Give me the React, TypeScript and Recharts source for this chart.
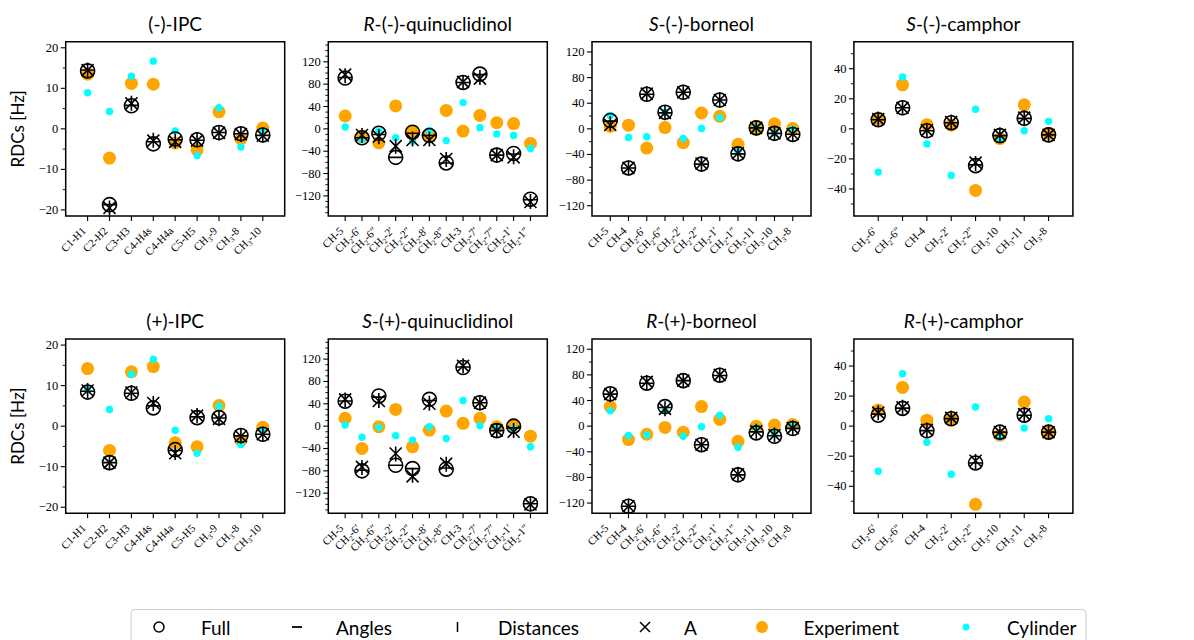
import React from 'react';
import { ScatterChart, Scatter, XAxis, YAxis, ReferenceArea } from 'recharts';

const W = 1194;
const H = 640;
const PW = 219;
const PH = 174.3;
const YAW = 50;
const XAH = 60;
const SANS = 'Lato, "DejaVu Sans", sans-serif';
const SERIF = '"Liberation Serif", "DejaVu Serif", serif';

// ---------- categories ----------
const ipcCats = ['C1-H1', 'C2-H2', 'C3-H3', 'C4-H4s', 'C4-H4a', 'C5-H5', 'CH3-9', 'CH3-8', 'CH3-10'];
const quinCats = ['CH-5', 'CH2-6′', 'CH2-6″', 'CH2-2′', 'CH2-2″', 'CH2-8′', 'CH2-8″', 'CH-3', 'CH2-7′', 'CH2-7″', 'CH2-1′', 'CH2-1″'];
const bornCats = ['CH-5', 'CH-4', 'CH2-6′', 'CH2-6″', 'CH2-2′', 'CH2-2″', 'CH2-1′', 'CH2-1″', 'CH3-11', 'CH3-10', 'CH3-8'];
const campCats = ['CH2-6′', 'CH2-6″', 'CH-4', 'CH2-2′', 'CH2-2″', 'CH3-10', 'CH3-11', 'CH3-8'];

// ---------- y ticks ----------
const ipcMajor = [-20, -10, 0, 10, 20];
const ipcMinor = [-15, -5, 5, 15];
const quinMajor = [-120, -80, -40, 0, 40, 80, 120];
const quinMinor = [-150, -140, -130, -110, -100, -90, -70, -60, -50, -30, -20, -10, 10, 20, 30, 50, 60, 70, 90, 100, 110, 130, 140, 150];
const bornMajor = [-120, -80, -40, 0, 40, 80, 120];
const bornMinor = [-100, -60, -20, 20, 60, 100];
const campMajor = [-40, -20, 0, 20, 40];
const campMinor = [-50, -30, -10, 10, 30, 50];

// ---------- (-)-IPC ----------
const ipcMFull = [14.3, -18.7, 5.7, -3.7, -2.5, -2.7, -0.9, -1.2, -1.5];
const ipcMAngles = [14.5, -18.7, 5.8, -3.2, -2.7, -2.8, -0.9, -1.2, -1.6];
const ipcMDist = [14.5, -19.5, 6.3, -2.8, -3.0, -2.7, -1.0, -1.4, -1.6];
const ipcMA = [14.5, -19.5, 6.3, -2.9, -3.2, -2.9, -1.0, -1.3, -1.7];
const ipcMExp = [13.5, -7.2, 11.2, 11.0, -3.5, -5.2, 4.2, -2.5, 0.2];
const ipcMCyl = [8.9, 4.3, 13.0, 16.7, -0.5, -6.6, 5.2, -4.5, -0.6];

// ---------- (+)-IPC ----------
const ipcPFull = [8.4, -9.0, 8.1, 4.5, -5.8, 2.1, 2.1, -2.3, -2.0];
const ipcPAngles = [8.6, -9.0, 8.1, 5.0, -6.0, 2.3, 2.0, -2.4, -2.0];
const ipcPDist = [8.8, -9.0, 8.3, 5.6, -6.5, 2.6, 1.8, -2.5, -2.0];
const ipcPA = [8.8, -9.0, 8.3, 5.7, -6.7, 2.6, 1.8, -2.5, -2.0];
const ipcPExp = [14.2, -6.0, 13.4, 14.7, -4.1, -5.1, 5.1, -3.5, -0.3];
const ipcPCyl = [8.9, 4.1, 12.8, 16.5, -1.0, -6.7, 4.9, -4.5, -1.0];

// ---------- R-(-)-quinuclidinol ----------
const quinRFull = [91, -16, -8, -51, -6, -12, -61, 83, 98, -47, -44, -126];
const quinRAngles = [92, -16, -10, -51, -8, -12, -61, 83, 97, -47, -45, -127];
const quinRDist = [95, -12, -14, -31, -18, -18, -55, 83, 92, -47, -50, -130];
const quinRA = [97, -11, -14, -31, -20, -20, -54, 84, 90, -47, -51, -131];
const quinRExp = [23, -14, -25, 41, -6, -12, 33, -4, 24, 11, 9.5, -26];
const quinRCyl = [3.5, -19, -4, -16, -22, -3, -21, 47, 2, -9, -12, -35];

// ---------- S-(+)-quinuclidinol ----------
const quinSFull = [44.6, -80, 54, -70, -76, 48, -77, 105, 42, -8, 0, -139];
const quinSAngles = [45, -79, 52, -70, -76, 46, -75, 106, 42, -8, -3, -139];
const quinSDist = [47, -74, 46, -50, -88, 41, -68, 108, 42, -8, -8, -140];
const quinSA = [48, -73, 45, -49, -90, 40, -67, 108, 42, -8, -10, -140];
const quinSExp = [14, -40, -1, 30, -37, -7, 27, 5, 14, -1, 2, -18];
const quinSCyl = [2, -20, -2, -17, -25, -1, -22, 46, 1, -4, -4, -37];

// ---------- S-(-)-borneol ----------
const bornSFull = [13, -61, 54, 26, 57, -55, 45, -39, 1.5, -7, -8.8];
const bornSAngles = [12, -61, 54, 25, 57, -55, 45, -39, 1.5, -7, -8.5];
const bornSDist = [8, -61, 55, 25, 57, -55, 45, -39, 1.5, -7, -8];
const bornSA = [6, -61, 55, 25, 57, -54, 45, -38, 1.5, -7, -8];
const bornSExp = [4, 5.7, -30, 2, -21.6, 24.7, 19.6, -24, 0.5, 8, 0.5];
const bornSCyl = [21, -13.4, -12.4, 25.8, -15, 0.5, 17.5, -34.5, 2, -6, -0.5];

// ---------- R-(+)-borneol ----------
const bornRFull = [50.5, -125, 67, 30.5, 71, -29, 79.5, -76, -10.5, -15.8, -3.7];
const bornRAngles = [50, -125, 67, 29, 71, -29, 79, -76, -9, -15, -3.5];
const bornRDist = [49, -125, 68, 27, 71, -29, 80, -75, -8, -14, -3];
const bornRA = [50, -125, 69, 27, 71, -29, 80, -75, -8, -14, -3];
const bornRExp = [30.5, -21, -12.6, -2, -9.5, 30.5, 10.5, -23.7, 0, 1.6, 2.6];
const bornRCyl = [24, -14.7, -13.7, 24, -15.8, -1, 17, -33, -3, -11.6, 0];

// ---------- S-(-)-camphor ----------
const campSFull = [6.1, 14, -1.3, 4.1, -24.5, -4.5, 7, -4];
const campSAngles = [6.1, 14, -1.3, 4.1, -24, -4.5, 7, -4];
const campSDist = [6.5, 14, -1, 4.5, -23, -4, 7.5, -4];
const campSA = [6.5, 14, -1, 4.5, -22.5, -4, 7.5, -4];
const campSExp = [6.8, 29.3, 2.8, 2.4, -41, -6.5, 16, -3];
const campSCyl = [-28.8, 34.5, -10, -31, 13, -7, -1.3, 5];

// ---------- R-(+)-camphor ----------
const campRFull = [7.3, 11.8, -3.1, 4.9, -24.5, -4, 7.3, -4];
const campRAngles = [8, 12, -3, 5, -24.5, -4, 7.3, -4];
const campRDist = [9, 12.5, -2.5, 5.5, -23.5, -4, 7.8, -4];
const campRA = [9, 12.5, -2.5, 5.5, -23, -4, 8, -4];
const campRExp = [10.7, 25.8, 4, 4.4, -52, -6, 16, -4];
const campRCyl = [-30, 34.9, -10.7, -32, 12.7, -7.3, -1.3, 5];

// ---------- marker shapes ----------
const shapeExp = (p: any) => <circle cx={p.cx} cy={p.cy} r={6.5} fill="#FFA500" />;
const shapeCyl = (p: any) => <circle cx={p.cx} cy={p.cy} r={3.7} fill="#00FFFF" />;
const shapeFull = (p: any) => <circle cx={p.cx} cy={p.cy} r={7} fill="none" stroke="#000" strokeWidth={1.6} />;
const shapeAngles = (p: any) => <line x1={p.cx - 7} x2={p.cx + 7} y1={p.cy} y2={p.cy} stroke="#000" strokeWidth={1.6} />;
const shapeDist = (p: any) => <line x1={p.cx} x2={p.cx} y1={p.cy - 7.5} y2={p.cy + 7.5} stroke="#000" strokeWidth={1.6} />;
const shapeA = (p: any) => (
  <path d={`M${p.cx - 6},${p.cy - 6}L${p.cx + 6},${p.cy + 6}M${p.cx - 6},${p.cy + 6}L${p.cx + 6},${p.cy - 6}`} stroke="#000" strokeWidth={1.6} fill="none" />
);
const seriesShapes = [shapeExp, shapeCyl, shapeFull, shapeAngles, shapeDist, shapeA];
const seriesNames = ['Experiment', 'Cylinder', 'Full', 'Angles', 'Distances', 'A'];

const fmt = (v: number) => (v < 0 ? '\u2212' + Math.abs(v) : String(v));

const makeXTick = (cats: string[]) => (props: any) => {
  const { x, y, payload } = props;
  const lab = cats[payload.value];
  if (lab == null) return <g />;
  const m = lab.match(/^CH(\d)(.*)$/);
  return (
    <g>
      <line x1={x} x2={x} y1={y} y2={y + 5} stroke="#000" strokeWidth={1.1} />
      <text transform={`translate(${x - 1},${y + 15.5}) rotate(-45)`} textAnchor="end" fontSize={11} fontFamily={SERIF} fill="#000">
        {m ? (
          <>
            CH<tspan dy={2.5} fontSize={7.5}>{m[1]}</tspan><tspan dy={-2.5}>{m[2]}</tspan>
          </>
        ) : lab}
      </text>
    </g>
  );
};

const makeYTick = (major: number[]) => (props: any) => {
  const { x, y, payload } = props;
  const v = payload.value;
  const isMajor = major.indexOf(v) >= 0;
  return (
    <g>
      <line x1={x - (isMajor ? 5 : 3)} x2={x} y1={y} y2={y} stroke="#000" strokeWidth={isMajor ? 1.1 : 0.9} />
      {isMajor && (
        <text x={x - 7.5} y={y} textAnchor="end" dominantBaseline="central" fontSize={12.5} fontFamily={SERIF} fill="#000">
          {fmt(v)}
        </text>
      )}
    </g>
  );
};

type Panel = {
  key: string;
  title: React.ReactNode;
  cats: string[];
  lim: number;
  major: number[];
  minor: number[];
  series: number[][];
  left: number;
  top: number;
  ylabel: boolean;
};

const LEFTS = [65.7, 328.3, 592, 853.9];
const TOPS = [41.7, 339];

const panels: Panel[] = [
  { key: 'ipcM', title: <>(-)-IPC</>, cats: ipcCats, lim: 21.5, major: ipcMajor, minor: ipcMinor, series: [ipcMExp, ipcMCyl, ipcMFull, ipcMAngles, ipcMDist, ipcMA], left: LEFTS[0], top: TOPS[0], ylabel: true },
  { key: 'quinR', title: <><tspan fontStyle="italic">R</tspan>-(-)-quinuclidinol</>, cats: quinCats, lim: 156, major: quinMajor, minor: quinMinor, series: [quinRExp, quinRCyl, quinRFull, quinRAngles, quinRDist, quinRA], left: LEFTS[1], top: TOPS[0], ylabel: false },
  { key: 'bornS', title: <><tspan fontStyle="italic">S</tspan>-(-)-borneol</>, cats: bornCats, lim: 136, major: bornMajor, minor: bornMinor, series: [bornSExp, bornSCyl, bornSFull, bornSAngles, bornSDist, bornSA], left: LEFTS[2], top: TOPS[0], ylabel: false },
  { key: 'campS', title: <><tspan fontStyle="italic">S</tspan>-(-)-camphor</>, cats: campCats, lim: 58, major: campMajor, minor: campMinor, series: [campSExp, campSCyl, campSFull, campSAngles, campSDist, campSA], left: LEFTS[3], top: TOPS[0], ylabel: false },
  { key: 'ipcP', title: <>(+)-IPC</>, cats: ipcCats, lim: 21.5, major: ipcMajor, minor: ipcMinor, series: [ipcPExp, ipcPCyl, ipcPFull, ipcPAngles, ipcPDist, ipcPA], left: LEFTS[0], top: TOPS[1], ylabel: true },
  { key: 'quinS', title: <><tspan fontStyle="italic">S</tspan>-(+)-quinuclidinol</>, cats: quinCats, lim: 156, major: quinMajor, minor: quinMinor, series: [quinSExp, quinSCyl, quinSFull, quinSAngles, quinSDist, quinSA], left: LEFTS[1], top: TOPS[1], ylabel: false },
  { key: 'bornR', title: <><tspan fontStyle="italic">R</tspan>-(+)-borneol</>, cats: bornCats, lim: 136, major: bornMajor, minor: bornMinor, series: [bornRExp, bornRCyl, bornRFull, bornRAngles, bornRDist, bornRA], left: LEFTS[2], top: TOPS[1], ylabel: false },
  { key: 'campR', title: <><tspan fontStyle="italic">R</tspan>-(+)-camphor</>, cats: campCats, lim: 58, major: campMajor, minor: campMinor, series: [campRExp, campRCyl, campRFull, campRAngles, campRDist, campRA], left: LEFTS[3], top: TOPS[1], ylabel: false },
];

function PanelChart({ p }: { p: Panel }) {
  const n = p.cats.length;
  const xticks = p.cats.map((_, i) => i);
  const yticks = [...p.major, ...p.minor].sort((a, b) => a - b);
  return (
    <div style={{ position: 'absolute', left: 0, top: 0, width: W, height: H }}>
      <ScatterChart
        width={W}
        height={H}
        margin={{ top: p.top, left: p.left - YAW, right: W - p.left - PW, bottom: H - p.top - PH - XAH }}
      >
        <XAxis
          type="number"
          dataKey="x"
          domain={[-1, n]}
          ticks={xticks}
          interval={0}
          allowDataOverflow
          height={XAH}
          tickSize={0}
          tickMargin={0}
          tickLine={false}
          axisLine={false}
          tick={makeXTick(p.cats)}
        />
        <YAxis
          type="number"
          dataKey="y"
          domain={[-p.lim, p.lim]}
          ticks={yticks}
          interval={0}
          allowDataOverflow
          width={YAW}
          tickSize={0}
          tickMargin={0}
          tickLine={false}
          axisLine={false}
          tick={makeYTick(p.major)}
        />
        {p.series.map((vals, si) => (
          <Scatter
            key={seriesNames[si]}
            name={seriesNames[si]}
            data={vals.map((y, i) => ({ x: i, y }))}
            shape={seriesShapes[si]}
            isAnimationActive={false}
          />
        ))}
        <ReferenceArea x1={-1} x2={n} y1={-p.lim} y2={p.lim} fill="none" fillOpacity={0} stroke="#000" strokeWidth={1.5} ifOverflow="visible" />
      </ScatterChart>
    </div>
  );
}

function Overlay() {
  const ly = 627;
  const fs = 19;
  return (
    <svg width={W} height={H} style={{ position: 'absolute', left: 0, top: 0, pointerEvents: 'none' }}>
      {panels.map((p) => (
        <text key={p.key + 't'} x={p.left + PW / 2} y={p.top - 11} textAnchor="middle" fontSize={19} fontFamily={SANS} fill="#000">
          {p.title}
        </text>
      ))}
      {panels.filter((p) => p.ylabel).map((p) => (
        <text key={p.key + 'y'} transform={`translate(17,${p.top + PH / 2}) rotate(-90)`} textAnchor="middle" dominantBaseline="central" fontSize={17} fontFamily={SANS} fill="#000">
          RDCs [Hz]
        </text>
      ))}
      {/* legend */}
      <rect x={131} y={609.5} width={955} height={50} rx={4} ry={4} fill="#fff" stroke="#cccccc" strokeWidth={1} />
      <circle cx={159} cy={ly} r={5} fill="none" stroke="#000" strokeWidth={1.5} />
      <text x={201} y={ly} dominantBaseline="central" fontSize={fs} fontFamily={SANS}>Full</text>
      <line x1={292} x2={302} y1={ly} y2={ly} stroke="#000" strokeWidth={1.8} />
      <text x={336} y={ly} dominantBaseline="central" fontSize={fs} fontFamily={SANS}>Angles</text>
      <line x1={457.5} x2={457.5} y1={ly - 5} y2={ly + 5} stroke="#000" strokeWidth={1.5} />
      <text x={498} y={ly} dominantBaseline="central" fontSize={fs} fontFamily={SANS}>Distances</text>
      <path d={`M${640},${ly - 5}L${650},${ly + 5}M${640},${ly + 5}L${650},${ly - 5}`} stroke="#000" strokeWidth={1.5} />
      <text x={684} y={ly} dominantBaseline="central" fontSize={fs} fontFamily={SANS}>A</text>
      <circle cx={762} cy={ly} r={6} fill="#FFA500" />
      <text x={803.5} y={ly} dominantBaseline="central" fontSize={fs} fontFamily={SANS}>Experiment</text>
      <circle cx={966} cy={ly} r={3.5} fill="#00FFFF" />
      <text x={1007} y={ly} dominantBaseline="central" fontSize={fs} fontFamily={SANS}>Cylinder</text>
    </svg>
  );
}

export default function App() {
  return (
    <div style={{ position: 'absolute', left: 0, top: 0, width: W, height: H, background: '#fff', overflow: 'hidden' }}>
      {panels.map((p) => (
        <PanelChart key={p.key} p={p} />
      ))}
      <Overlay />
    </div>
  );
}
